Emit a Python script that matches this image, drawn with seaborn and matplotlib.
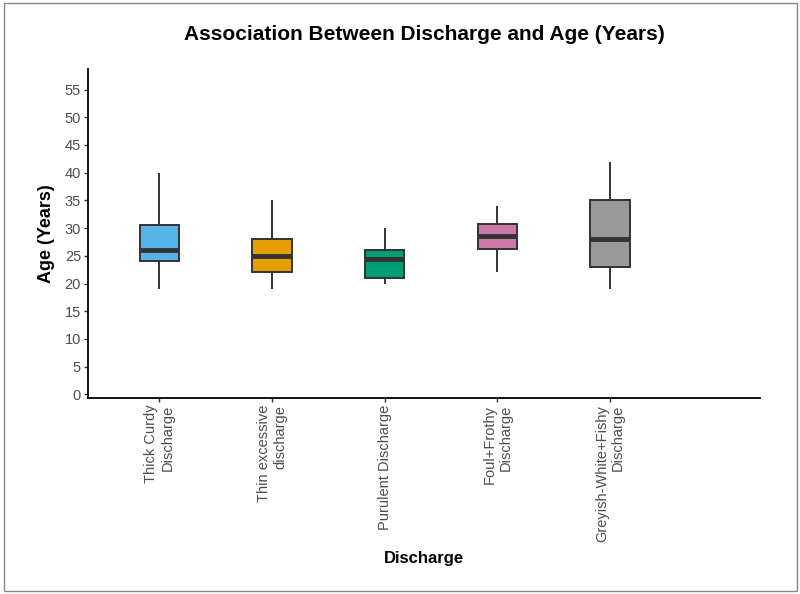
import pandas as pd
import matplotlib.pyplot as plt
import seaborn as sns
from matplotlib.patches import Rectangle

# Five-number summaries (min, Q1, median, Q3, max)
categories = ['Thick Curdy\nDischarge', 'Thin excessive\ndischarge', 'Purulent Discharge',
              'Foul+Frothy\nDischarge', 'Greyish-White+Fishy\nDischarge']
thick_curdy = [19, 24, 26, 30.5, 40]
thin_excessive = [19, 22, 25, 28, 35]
purulent = [20, 21, 24.5, 26, 30]
foul_frothy = [22, 26.2, 28.5, 30.8, 34]
greyish_white = [19, 23, 28, 35, 42]
colors = ['#56B4E9', '#E69F00', '#009E73', '#CC79A7', '#999999']
y_ticks = list(range(0, 60, 5))

df = pd.DataFrame({
    'Discharge': [c for c, vals in zip(categories, [thick_curdy, thin_excessive, purulent,
                                                    foul_frothy, greyish_white]) for _ in vals],
    'Age': thick_curdy + thin_excessive + purulent + foul_frothy + greyish_white,
})

sns.set_theme(style='ticks')
plt.rcParams['font.family'] = ['Liberation Sans', 'DejaVu Sans']

fig = plt.figure(figsize=(8, 5.94), dpi=100)
ax = fig.add_axes([88 / 800, 1 - 397.7 / 594, (760 - 88) / 800, (397.7 - 69) / 594])

sns.boxplot(data=df, x='Discharge', y='Age', hue='Discharge', palette=colors,
            order=categories, width=0.35, whis=float('inf'), legend=False,
            saturation=1, showcaps=False,
            linecolor='#333333', linewidth=1.4,
            medianprops={'linewidth': 3.5, 'color': '#333333'}, ax=ax)

ax.set_xlim(-0.633, 5.33)
ax.set_ylim(-0.6, 58.7)
ax.set_yticks(y_ticks)
ax.set_yticklabels([str(t) for t in y_ticks], color='#4d4d4d', fontsize=10.5)
ax.set_xticks(range(len(categories)))
ax.set_xticklabels(categories, rotation=90, color='#4d4d4d', fontsize=10.5,
                   ha='center', va='top', multialignment='right')
for s in ['top', 'right']:
    ax.spines[s].set_visible(False)
for s in ['left', 'bottom']:
    ax.spines[s].set_linewidth(1.3)
    ax.spines[s].set_color('black')
ax.tick_params(axis='both', length=3, width=1, color='#333333', pad=2)

ax.set_xlabel('Discharge', fontsize=12, fontweight='bold', color='black', labelpad=7)
ax.set_ylabel('Age (Years)', fontsize=13, fontweight='bold', color='black', labelpad=7)
ax.set_title('Association Between Discharge and Age (Years)', fontsize=15,
             fontweight='bold', color='black', pad=21)

fig.patches.append(Rectangle((4 / 800, 1 - 591 / 594), 793 / 800, 588 / 594,
                             transform=fig.transFigure, fill=False,
                             edgecolor='#888888', linewidth=1))

fig.savefig('out.png', dpi=100)
